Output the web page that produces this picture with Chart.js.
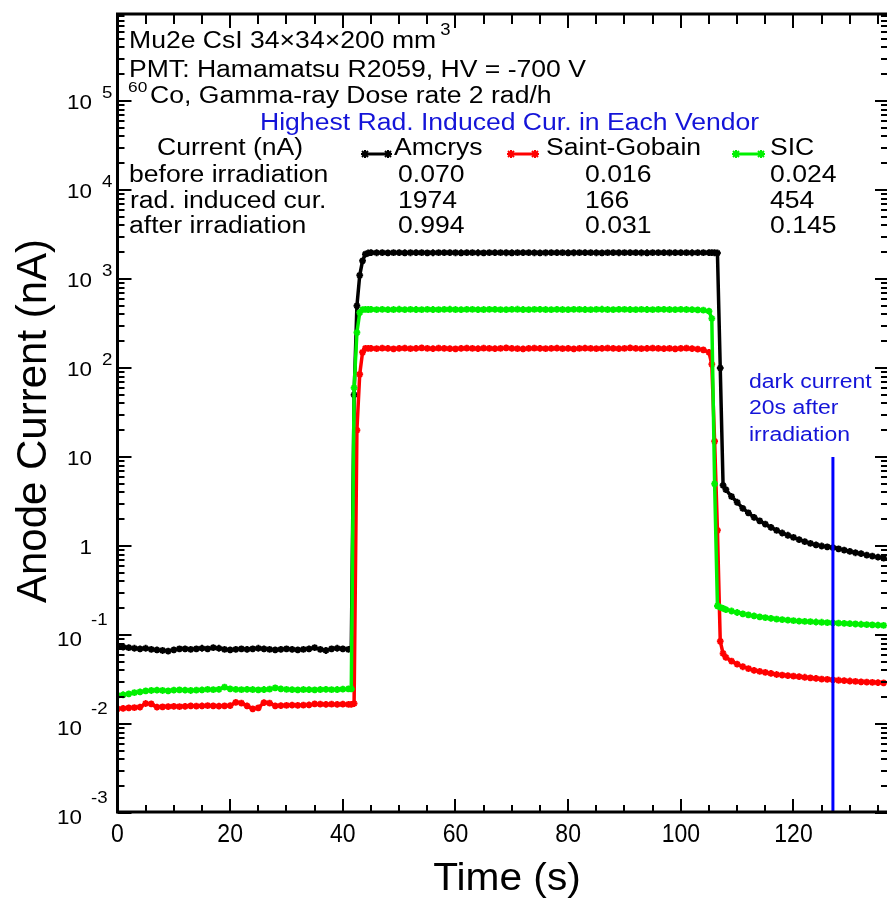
<!DOCTYPE html>
<html>
<head>
<meta charset="utf-8">
<script src="https://cdn.jsdelivr.net/npm/chart.js@4.4.1/dist/chart.umd.min.js"></script>
<style>
html,body{margin:0;padding:0;background:#fff;}
canvas{display:block;background:#fff;}
</style>
</head>
<body>
<canvas id="c" width="887" height="898"></canvas>
<script>
// ---------- DATA ----------
const times = [
 0,1,2,3,4,5,6,7,8,9,10,11,12,13,14,15,16,17,18,19,20,21,22,23,24,25,26,27,28,29,30,31,32,33,34,35,36,37,38,39,40,41,
 41.5,42,42.5,43,43.5,44,44.5,
 45,46,47,48,49,50,51,52,53,54,55,56,57,58,59,60,61,62,63,64,65,66,67,68,69,70,71,72,73,74,75,76,77,78,79,80,81,82,83,84,85,86,87,88,89,90,91,92,93,94,95,96,97,98,99,100,101,102,103,104,105,
 105.5,106,106.5,107,107.5,
 108,109,110,111,112,113,114,115,116,117,118,119,120,121,122,123,124,125,126,127,128,129,130,131,132,133,134,135,136
];
const amcrys = [
 0.074,0.073,0.072,0.071,0.070,0.071,0.069,0.068,0.067,0.066,0.068,0.070,0.070,0.069,0.070,0.071,0.070,0.072,0.071,0.069,
 0.068,0.069,0.070,0.069,0.070,0.071,0.070,0.069,0.068,0.069,0.070,0.069,0.068,0.069,0.070,0.072,0.069,0.067,0.070,0.071,0.070,0.069,
 0.070,50,500,1100,1600,1900,1960,
 1975,1972,1978,1970,1974,1976,1971,1973,1977,1975,
 1970,1972,1974,1979,1976,1973,1971,1975,1974,1972,
 1970,1976,1978,1974,1973,1971,1975,1977,1974,1972,
 1970,1973,1976,1975,1974,1971,1973,1977,1978,1975,
 1972,1970,1974,1976,1973,1975,1977,1974,1972,1971,
 1975,1976,1974,1973,1975,1977,1974,1972,1975,1974,
 1975,
 1974,1973,1960,100,4.8,
 4.3,3.6,3.1,2.65,2.35,2.1,1.92,1.76,1.62,1.5,1.4,1.32,1.25,1.18,1.12,1.07,1.03,1.0,0.98,0.96,0.93,0.90,0.87,0.84,0.82,0.79,0.77,0.75,0.73
];
const saintGobain = [
 0.0148,0.015,0.0152,0.0153,0.0155,0.017,0.0168,0.0155,0.0156,0.0157,0.0158,0.0157,0.0158,0.016,0.0159,0.016,0.0161,0.016,0.0159,0.016,
 0.0161,0.0175,0.0172,0.016,0.0148,0.0152,0.0174,0.0172,0.016,0.0161,0.0162,0.0163,0.0162,0.0163,0.0164,0.0168,0.0167,0.0166,0.0167,0.0166,0.0167,0.0166,
 0.0166,0.017,20,85,150,166,166,
 166,165,167,166,164,166,167,165,166,168,
 166,165,167,166,165,164,166,167,166,165,
 167,166,165,166,168,166,165,164,166,167,
 166,165,166,167,165,166,164,166,167,166,
 165,166,167,166,165,166,168,166,165,166,
 167,166,165,166,164,166,167,165,163,160,
 150,
 110,15,1.5,0.085,0.062,
 0.056,0.051,0.047,0.044,0.042,0.040,0.039,0.038,0.037,0.036,0.0355,0.035,0.0345,0.034,0.0335,0.033,0.0325,0.032,0.0318,0.0314,0.031,0.0307,0.0304,0.0301,0.0298,0.0296,0.0294,0.0292,0.029
];
const sic = [
 0.021,0.0213,0.0218,0.0225,0.023,0.0235,0.0238,0.024,0.0238,0.0236,0.024,0.0242,0.024,0.0238,0.024,0.0242,0.0245,0.0243,0.0245,0.026,
 0.0248,0.0245,0.0243,0.0245,0.0244,0.0242,0.0244,0.0246,0.0255,0.0248,0.0245,0.0243,0.0242,0.0244,0.0243,0.0242,0.0244,0.0245,0.0243,0.0244,0.0246,0.0248,
 0.0248,60,250,420,452,455,454,
 455,453,456,452,454,457,453,455,454,452,
 456,454,453,455,457,454,452,455,456,453,
 454,456,455,453,452,455,457,454,453,455,
 456,454,452,455,454,453,456,455,454,452,
 455,457,454,453,455,456,454,452,455,454,
 453,455,456,454,453,455,454,452,450,446,
 435,
 360,5.0,0.212,0.205,0.199,
 0.193,0.186,0.179,0.173,0.168,0.164,0.160,0.157,0.154,0.151,0.149,0.147,0.145,0.143,0.142,0.141,0.140,0.139,0.138,0.137,0.136,0.135,0.134,0.133,0.132,0.131,0.130,0.129,0.128
];
// marker line: dark current 20 s after irradiation
const darkLineTime = [127, 127];
const darkLineValue = [10, 0.001];

const xTickValues = [0,20,40,60,80,100,120];
const xTickLabels = ['0','20','40','60','80','100','120'];
const yTickValues = [0.001,0.01,0.1,1,10,100,1000,10000,100000];
const yTickBase = ['10','10','10','1','10','10','10','10','10'];
const yTickSup  = ['-3','-2','-1','','','2','3','4','5'];

const vendors = ['Amcrys','Saint-Gobain','SIC'];
const beforeIrr = ['0.070','0.016','0.024'];
const radInduced = ['1974','166','454'];
const afterIrr = ['0.994','0.031','0.145'];

// ---------- HELPERS ----------
const FONT = '"Liberation Sans", Arial, Helvetica, sans-serif';
function txt(ctx, s, x, y, size, color, align, sx, rot) {
  ctx.save();
  ctx.translate(x, y);
  if (rot) ctx.rotate(rot);
  ctx.scale(sx || 1, 1);
  ctx.font = size + 'px ' + FONT;
  ctx.textAlign = align || 'left';
  ctx.textBaseline = 'alphabetic';
  ctx.fillStyle = color || '#000';
  ctx.fillText(s, 0, 0);
  const w = ctx.measureText(s).width * (sx || 1);
  ctx.restore();
  return w;
}
function star(ctx, x, y, r, color) {
  ctx.save();
  ctx.strokeStyle = color; ctx.lineWidth = 2;
  ctx.beginPath();
  ctx.moveTo(x - r, y); ctx.lineTo(x + r, y);
  ctx.moveTo(x, y - r); ctx.lineTo(x, y + r);
  const d = r * 0.75;
  ctx.moveTo(x - d, y - d); ctx.lineTo(x + d, y + d);
  ctx.moveTo(x - d, y + d); ctx.lineTo(x + d, y - d);
  ctx.stroke();
  ctx.restore();
}
function legendMark(ctx, x1, x2, y, color) {
  ctx.save();
  ctx.strokeStyle = color; ctx.lineWidth = 3;
  ctx.beginPath(); ctx.moveTo(x1, y); ctx.lineTo(x2, y); ctx.stroke();
  ctx.restore();
  star(ctx, x1 + 3, y, 4, color);
  star(ctx, x2 - 3, y, 4, color);
}

const BLACK = '#000000', RED = '#ff0000', GREEN = '#00f000', BLUE = '#0000ff', TBLUE = '#1414d8';

const framePlugin = {
  id: 'frame',
  afterDatasetsDraw(chart) {
    const ctx = chart.ctx;
    const xs = chart.scales.x, ys = chart.scales.y;
    const X0 = xs.getPixelForValue(0);
    const X1 = chart.width;
    const Yb = ys.getPixelForValue(0.001) - 1;
    const Yt = chart.chartArea.top + 2;
    ctx.save();
    ctx.strokeStyle = '#000';
    // ticks
    ctx.lineWidth = 2;
    ctx.beginPath();
    for (let k = -3; k <= 5; k++) {
      for (let m = 1; m <= 9; m++) {
        const v = m * Math.pow(10, k);
        const y = Math.round(ys.getPixelForValue(v));
        if (y < Yt + 2) continue;
        const L = (m === 1) ? 14 : 7;
        ctx.moveTo(X0, y); ctx.lineTo(X0 + L, y);
        ctx.moveTo(X1, y); ctx.lineTo(X1 - ((m === 1) ? 12 : 6), y);
      }
    }
    for (let t = 0; t <= 136; t += 5) {
      const x = Math.round(xs.getPixelForValue(t));
      const L = (t % 20 === 0) ? 13 : 7;
      if (t > 0) {
        ctx.moveTo(x, Yb); ctx.lineTo(x, Yb - L);
        ctx.moveTo(x, Yt); ctx.lineTo(x, Yt + ((t % 20 === 0) ? 14 : 10));
      }
    }
    ctx.stroke();
    // frame
    ctx.lineWidth = 3;
    ctx.beginPath();
    ctx.moveTo(X0, Yt); ctx.lineTo(X1, Yt);
    ctx.moveTo(X0, Yt - 1.5); ctx.lineTo(X0, Yb + 1.5);
    ctx.moveTo(X0 - 1.5, Yb); ctx.lineTo(X1, Yb);
    ctx.stroke();
    ctx.restore();

    // x tick labels
    xTickValues.forEach((v, i) => {
      txt(ctx, xTickLabels[i], xs.getPixelForValue(v), 842, 25, '#000', 'center', 0.92);
    });
    // y tick labels
    yTickValues.forEach((v, i) => {
      const y = ys.getPixelForValue(v);
      const sup = yTickSup[i];
      if (sup === '') {
        txt(ctx, yTickBase[i], 92, y + 8, 20, '#000', 'right', 1.12);
      } else if (sup.charAt(0) === '-') {
        txt(ctx, yTickBase[i], 82, y + 11, 20, '#000', 'right', 1.12);
        txt(ctx, sup, 91, y - 10, 17, '#000', 'left', 1.1);
      } else {
        txt(ctx, yTickBase[i], 92, y + 8, 20, '#000', 'right', 1.12);
        txt(ctx, sup, 102, y - 3, 17, '#000', 'left', 1.1);
      }
    });
    // axis titles
    txt(ctx, 'Time (s)', 507, 890, 38, '#000', 'center', 1.07);
    txt(ctx, 'Anode Current (nA)', 46, 421, 42, '#000', 'center', 1.0, -Math.PI / 2);

    // annotation block
    const S = 23, SX = 1.155;
    let w = txt(ctx, 'Mu2e CsI 34\u00d734\u00d7200 mm', 129, 48, S, '#000', 'left', SX);
    txt(ctx, '3', 129 + w + 4, 35, 16, '#000', 'left', SX);
    txt(ctx, 'PMT: Hamamatsu R2059, HV = -700 V', 129, 77, S, '#000', 'left', SX);
    txt(ctx, '60', 128, 92, 15, '#000', 'left', SX);
    txt(ctx, 'Co, Gamma-ray Dose rate 2 rad/h', 150, 103, S, '#000', 'left', SX);
    txt(ctx, 'Highest Rad. Induced Cur. in Each Vendor', 260, 130, S, TBLUE, 'left', 1.155);
    txt(ctx, 'Current (nA)', 157, 155, S, '#000', 'left', SX);
    txt(ctx, 'before irradiation', 129, 182, S, '#000', 'left', SX);
    txt(ctx, 'rad. induced cur.', 130, 208, S, '#000', 'left', SX);
    txt(ctx, 'after irradiation', 129, 233, S, '#000', 'left', SX);
    const legX = [[362, 391, 394], [508, 538, 546], [733, 764, 770]];
    const valX = [398, 585, 770];
    const cols = [BLACK, RED, GREEN];
    vendors.forEach((name, i) => {
      legendMark(ctx, legX[i][0], legX[i][1], 154, cols[i]);
      txt(ctx, name, legX[i][2], 155, S, '#000', 'left', SX);
      txt(ctx, beforeIrr[i], valX[i], 182, S, '#000', 'left', SX);
      txt(ctx, radInduced[i], valX[i], 208, S, '#000', 'left', SX);
      txt(ctx, afterIrr[i], valX[i], 233, S, '#000', 'left', SX);
    });
    // dark current note
    txt(ctx, 'dark current', 749, 388, 20, TBLUE, 'left', 1.15);
    txt(ctx, '20s after', 749, 414, 20, TBLUE, 'left', 1.15);
    txt(ctx, 'irradiation', 749, 441, 20, TBLUE, 'left', 1.15);
  }
};

function series(vals) { return times.map((t, i) => ({ x: t, y: vals[i] })); }
function lineDs(label, vals, color) {
  return {
    label: label, data: series(vals), borderColor: color, backgroundColor: color,
    borderWidth: 3.5, pointStyle: 'star', pointRadius: 3.4, pointBorderWidth: 2,
    pointBorderColor: color, tension: 0, fill: false
  };
}

new Chart(document.getElementById('c'), {
  type: 'line',
  data: {
    datasets: [
      { label: 'dark current', data: darkLineTime.map((t, i) => ({ x: t, y: darkLineValue[i] })),
        borderColor: BLUE, borderWidth: 3, pointRadius: 0, fill: false },
      lineDs('SIC', sic, GREEN),
      lineDs('Saint-Gobain', saintGobain, RED),
      lineDs('Amcrys', amcrys, BLACK)
    ]
  },
  options: {
    responsive: false,
    animation: false,
    devicePixelRatio: 1,
    layout: { autoPadding: false, padding: { left: 117.5, top: 12, right: 0, bottom: 85 } },
    scales: {
      x: { type: 'linear', min: 0, max: 136.6, display: false },
      y: { type: 'logarithmic', min: 0.001, max: 1000000, display: false }
    },
    plugins: { legend: { display: false }, tooltip: { enabled: false } }
  },
  plugins: [framePlugin]
});
</script>
</body>
</html>
